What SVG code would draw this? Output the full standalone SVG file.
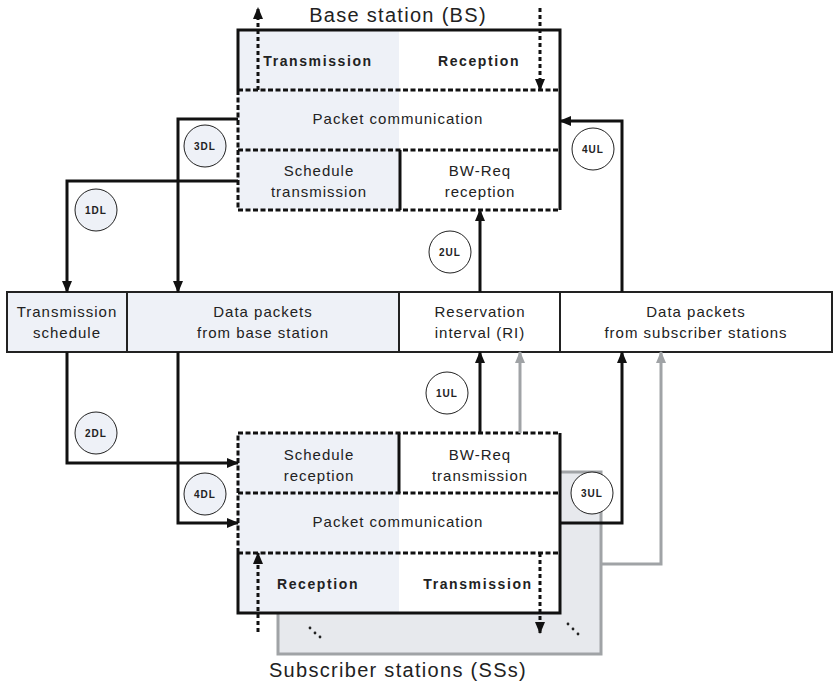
<svg xmlns="http://www.w3.org/2000/svg" width="834" height="683" viewBox="0 0 834 683">
<defs>
<style>
.t{font-family:"Liberation Sans",Arial,sans-serif;font-size:15px;letter-spacing:1px;fill:#222;text-anchor:middle}
.b{font-family:"Liberation Sans",Arial,sans-serif;font-size:14px;font-weight:bold;letter-spacing:1.6px;fill:#222;text-anchor:middle}
.ttl{font-family:"Liberation Sans",Arial,sans-serif;font-size:20px;letter-spacing:1.3px;fill:#222;text-anchor:middle}
.c{font-family:"Liberation Sans",Arial,sans-serif;font-size:10px;font-weight:bold;letter-spacing:1px;fill:#222;text-anchor:middle}
.solid{fill:none;stroke:#111;stroke-width:3}
.dash{fill:none;stroke:#111;stroke-width:3;stroke-dasharray:5 2.5}
.dot{fill:none;stroke:#111;stroke-width:3;stroke-dasharray:4 3}
.ar{fill:none;stroke:#111;stroke-width:3}
.gar{fill:none;stroke:#a0a3a6;stroke-width:3}
.lt{fill:#eef1f7}
.circ{stroke:#222;stroke-width:1}
</style>
<marker id="ah" markerWidth="12" markerHeight="10" refX="11" refY="5" orient="auto" markerUnits="userSpaceOnUse"><path d="M0,0 L12,5 L0,10 z" fill="#111"/></marker>
<marker id="gah" markerWidth="12" markerHeight="10" refX="11" refY="5" orient="auto" markerUnits="userSpaceOnUse"><path d="M0,0 L12,5 L0,10 z" fill="#a0a3a6"/></marker>
</defs>
<rect width="834" height="683" fill="#fff"/>

<g id="bs">
<rect x="238" y="30" width="161" height="180" class="lt"/>
<path class="solid" d="M238,90 V30 H560 V210"/>
<path class="dash" d="M238,90 H560 M238,150 H560 M238,90 V210 H560"/>
<path class="solid" d="M400,150 V210"/>
<text class="ttl" x="398" y="22">Base station (BS)</text>
<text class="b" x="318" y="66">Transmission</text>
<text class="b" x="479" y="66">Reception</text>
<text class="t" x="398" y="124">Packet communication</text>
<text class="t" x="319" y="176">Schedule</text>
<text class="t" x="319" y="197">transmission</text>
<text class="t" x="480" y="176">BW-Req</text>
<text class="t" x="480" y="197">reception</text>
</g>

<g id="ss">
<rect x="278" y="472" width="323" height="182" fill="#e7e9ed" stroke="#a0a3a6" stroke-width="3"/>
<rect x="238" y="433" width="322" height="180" fill="#fff"/>
<rect x="238" y="433" width="161" height="180" class="lt"/>
<path class="solid" d="M238,553 V613 H560 V433"/>
<path class="dash" d="M238,553 H560 M238,493 H560 M238,553 V433 H560"/>
<path class="solid" d="M399,433 V493"/>
<text class="t" x="319" y="460">Schedule</text>
<text class="t" x="319" y="481">reception</text>
<text class="t" x="480" y="460">BW-Req</text>
<text class="t" x="480" y="481">transmission</text>
<text class="t" x="398" y="527">Packet communication</text>
<text class="b" x="318" y="589">Reception</text>
<text class="b" x="478" y="589">Transmission</text>
<text class="ttl" x="398" y="677">Subscriber stations (SSs)</text>
<g fill="#222"><circle cx="310" cy="628" r="1.4"/><circle cx="315" cy="633" r="1.4"/><circle cx="320" cy="637" r="1.4"/><circle cx="568" cy="624" r="1.4"/><circle cx="573" cy="629" r="1.4"/><circle cx="578" cy="634" r="1.4"/></g>
</g>

<g id="frame">
<rect x="7" y="292" width="120" height="60" class="lt"/>
<rect x="127" y="292" width="272" height="60" class="lt"/>
<path d="M7,292 H832 V352 H7 Z M127,292 V352 M399,292 V352 M560,292 V352" fill="none" stroke="#222" stroke-width="2"/>
<text class="t" x="67" y="317">Transmission</text>
<text class="t" x="67" y="338">schedule</text>
<text class="t" x="263" y="317">Data packets</text>
<text class="t" x="263" y="338">from base station</text>
<text class="t" x="480" y="317">Reservation</text>
<text class="t" x="480" y="338">interval (RI)</text>
<text class="t" x="696" y="317">Data packets</text>
<text class="t" x="696" y="338">from subscriber stations</text>
</g>

<g id="connectors">
<path class="ar" d="M238,181 H67 V292" marker-end="url(#ah)"/>
<path class="ar" d="M238,119 H178 V292" marker-end="url(#ah)"/>
<path class="ar" d="M480,292 V210" marker-end="url(#ah)"/>
<path class="ar" d="M622,292 V121 H560" marker-end="url(#ah)"/>
<path class="ar" d="M67,352 V463 H238" marker-end="url(#ah)"/>
<path class="ar" d="M178,352 V523 H238" marker-end="url(#ah)"/>
<path class="ar" d="M480,433 V352" marker-end="url(#ah)"/>
<path class="gar" d="M520,433 V352" marker-end="url(#gah)"/>
<path class="ar" d="M560,523 H622 V352" marker-end="url(#ah)"/>
<path class="gar" d="M601,564 H661 V352" marker-end="url(#gah)"/>
<path class="dot" d="M258,90 V8" marker-end="url(#ah)"/>
<path class="dot" d="M540,8 V90" marker-end="url(#ah)"/>
<path class="dot" d="M258,632 V553" marker-end="url(#ah)"/>
<path class="dot" d="M540,553 V633" marker-end="url(#ah)"/>
</g>

<g id="labels">
<g id="c1DL"><circle class="circ lt" cx="96" cy="210" r="21"/><text class="c" x="96" y="214">1DL</text></g>
<g id="c3DL"><circle class="circ lt" cx="205" cy="146" r="21"/><text class="c" x="205" y="150">3DL</text></g>
<g id="c2UL"><circle class="circ" fill="#fff" cx="450" cy="252" r="21"/><text class="c" x="450" y="256">2UL</text></g>
<g id="c4UL"><circle class="circ" fill="#fff" cx="593" cy="149" r="21"/><text class="c" x="593" y="153">4UL</text></g>
<g id="c1UL"><circle class="circ" fill="#fff" cx="447" cy="393" r="21"/><text class="c" x="447" y="397">1UL</text></g>
<g id="c2DL"><circle class="circ lt" cx="96" cy="433" r="21"/><text class="c" x="96" y="437">2DL</text></g>
<g id="c4DL"><circle class="circ lt" cx="205" cy="494" r="21"/><text class="c" x="205" y="498">4DL</text></g>
<g id="c3UL"><circle class="circ" fill="#fff" cx="592" cy="493" r="21"/><text class="c" x="592" y="497">3UL</text></g>
</g>
</svg>
